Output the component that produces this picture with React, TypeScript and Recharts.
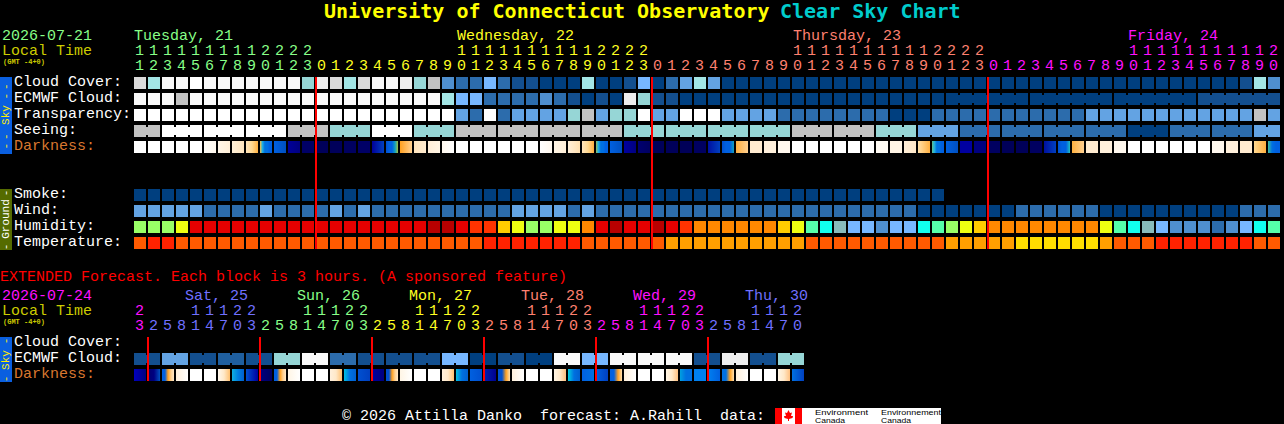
import React from 'react';
import { ReferenceLine, Scatter, ScatterChart, XAxis, YAxis } from 'recharts';

const MONO = '"Liberation Mono", monospace';

// forecast levels, one letter per block
const levelColors: Record<string, string> = {
    A: '#003F7F', B: '#134F8F', J: '#1F5F9F', C: '#2C6CAC', D: '#4F8FCF', E: '#63A3E3', F: '#77B7FF',
    T: '#96D6D6', L: '#A3E6E6', G: '#C2C2C2', H: '#DADADA', I: '#EEEEEE', V: '#F9F9F9', W: '#FFFFFF',
    g: '#99FF66', y: '#EEFF11', r: '#E60000', R: '#B80000', o: '#FF3300', n: '#FF8800', u: '#FFCC00',
    m: '#55FFAA', c: '#11FFEE', t: '#88BBBB',
    q: '#FF5A00', s: '#FF2200', v: '#FF9F00', x: '#FFDD00',
};

const hours = [
    11, 12, 13, 14, 15, 16, 17, 18, 19, 20, 21, 22, 23,
    0, 1, 2, 3, 4, 5, 6, 7, 8, 9, 10, 11, 12, 13, 14, 15, 16, 17, 18, 19, 20, 21, 22, 23,
    0, 1, 2, 3, 4, 5, 6, 7, 8, 9, 10, 11, 12, 13, 14, 15, 16, 17, 18, 19, 20, 21, 22, 23,
    0, 1, 2, 3, 4, 5, 6, 7, 8, 9, 10, 11, 12, 13, 14, 15, 16, 17, 18, 19, 20,
];

const cloudCover = [
    'H', 'L', 'V', 'V', 'W', 'V', 'V', 'V', 'V', 'V',
    'V', 'V', 'T', 'I', 'H', 'L', 'H', 'V', 'V', 'I',
    'T', 'G', 'D', 'C', 'C', 'F', 'C', 'B', 'B', 'A',
    'A', 'A', 'L', 'A', 'A', 'B', 'F', 'A', 'C', 'E',
    'L', 'E', 'A', 'A', 'A', 'A', 'A', 'A', 'A', 'A',
    'A', 'A', 'A', 'A', 'A', 'A', 'A', 'A', 'A', 'A',
    'A', 'A', 'A', 'A', 'A', 'A', 'A', 'A', 'A', 'A',
    'A', 'A', 'A', 'A', 'A', 'A', 'A', 'A', 'A', 'B',
    'L', 'D',
];
const ecmwfCloud = [
    'V', 'V', 'V', 'G', 'V', 'V', 'V', 'V', 'V', 'V',
    'V', 'V', 'V', 'V', 'V', 'V', 'V', 'V', 'V', 'V',
    'V', 'V', 'L', 'F', 'F', 'C', 'C', 'C', 'C', 'D',
    'C', 'B', 'A', 'B', 'A', 'I', 'T', 'B', 'B', 'A',
    'A', 'A', 'A', 'A', 'A', 'A', 'A', 'A', 'A', 'A',
    'A', 'A', 'A', 'A', 'A', 'A', 'A', 'A', 'A', 'A',
    'A', 'A', 'A', 'A', 'A', 'A', 'A', 'A', 'A', 'A',
    'A', 'A', 'A', 'A', 'A', 'A', 'B', 'B', 'B', 'B',
    'B', 'B',
];
const transparency = [
    'W', 'W', 'W', 'W', 'W', 'W', 'W', 'W', 'W', 'W',
    'W', 'W', 'W', 'W', 'W', 'W', 'W', 'W', 'W', 'W',
    'W', 'W', 'W', 'E', 'C', 'W', 'C', 'E', 'E', 'E',
    'E', 'T', 'G', 'E', 'T', 'T', 'W', 'E', 'E', 'W',
    'W', 'W', 'E', 'E', 'E', 'E', 'C', 'C', 'C', 'C',
    'C', 'C', 'C', 'C', 'A', 'A', 'A', 'C', 'C', 'C',
    'C', 'C', 'C', 'C', 'C', 'C', 'C', 'C', 'E', 'E',
    'E', 'E', 'E', 'E', 'E', 'E', 'E', 'E', 'E', 'E',
    'G', 'E',
];
const seeing = [
    'G', 'G', 'W', 'W', 'W', 'W', 'W', 'W', 'W', 'W',
    'W', 'G', 'G', 'G', 'T', 'T', 'T', 'W', 'W', 'W',
    'T', 'T', 'T', 'G', 'G', 'G', 'G', 'G', 'G', 'G',
    'G', 'G', 'G', 'G', 'G', 'T', 'T', 'T', 'T', 'T',
    'T', 'T', 'T', 'T', 'T', 'T', 'T', 'G', 'G', 'G',
    'G', 'G', 'G', 'T', 'T', 'T', 'E', 'E', 'E', 'C',
    'C', 'C', 'C', 'C', 'C', 'C', 'C', 'C', 'C', 'C',
    'C', 'A', 'A', 'A', 'C', 'C', 'C', 'C', 'C', 'C',
    'E', 'E',
];
// darkness blocks fade from left to right through these colours
const darkness = [
    'FFFFFF', 'FFFFFF', 'FFFFFF', 'FFFFFF', 'FFFFFF', 'FFFEFA,FFF8EE', 'FFF6E8,FFEFD8', 'FFF0D8,FFE5BF', 'FFE4BC,FFD890,FFB040', 'FFC040,20B0E0,0070E0,0070E0,0060E0,0060E0',
    '0060E0,0050C0', '000099,000080', '000066', '00005A', '00005A', '000060', '000066', '000099,0040C0', '0050D0,0060E0,0060E0,10A0C0,A0C040', 'FFA020,FFD090',
    'FFE4BC,FFEBD0', 'FFEED8,FFF5E5', 'FFF8EE,FFFFFF', 'FFFFFF', 'FFFFFF', 'FFFFFF', 'FFFFFF', 'FFFFFF', 'FFFFFF', 'FFFFFF,FFF8EE',
    'FFF5E5,FFEFD8', 'FFEFD8,FFE0B0', 'FFE4BC,FFD890,FFB040', '90C060,20B0E0,0070E0,0070E0,0060E0,0060E0', '0060E0,0050C0', '0000A0,000080', '000070,000060', '00005A', '00005A', '000058',
    '000060', '0010A0,0040C0', '0050D0,0060E0,0060E0,10A0C0', 'FFB040,FFD090', 'FFEBD0', 'FFF0DC', 'FFF8EE', 'FFFFFF', 'FFFFFF', 'FFFFFF',
    'FFFFFF', 'FFFFFF', 'FFFFFF', 'FFFBF4', 'FFF5E5', 'FFEFD8,FFE8C8', 'FFE0A8,FFB040', '60C090,20B0E0,0070E0,0070E0,0060E0,0060E0', '0060E0,0050C0', '0000A0',
    '000080', '000060', '000058', '000058', '000060', '0010A0,0040C0', '0050D0,0060E0,0060E0,20C0C0', 'FFB040,FFD090', 'FFEBD0', 'FFF0DC',
    'FFF8EE', 'FFFFFF', 'FFFFFF', 'FFFFFF', 'FFFFFF', 'FFFFFF', 'FFFFFF', 'FFF8EE', 'FFF0DC', 'FFEBD0',
    'FFD890,FFB040', '40C0A0,0070E0,0060E0,0060E0',
];
const smoke = [
    'A', 'A', 'A', 'A', 'A', 'A', 'A', 'A', 'A', 'A',
    'A', 'A', 'A', 'A', 'A', 'A', 'A', 'A', 'A', 'A',
    'A', 'A', 'A', 'A', 'A', 'A', 'A', 'A', 'A', 'A',
    'A', 'A', 'A', 'A', 'A', 'A', 'A', 'A', 'A', 'A',
    'A', 'A', 'A', 'A', 'A', 'A', 'A', 'A', 'A', 'A',
    'A', 'A', 'A', 'A', 'A', 'A', 'A', 'A',
];
const wind = [
    'E', 'E', 'E', 'E', 'E', 'C', 'C', 'C', 'C', 'E',
    'C', 'C', 'C', 'C', 'E', 'C', 'E', 'C', 'C', 'C',
    'C', 'C', 'C', 'C', 'C', 'C', 'C', 'E', 'E', 'E',
    'E', 'C', 'E', 'C', 'C', 'C', 'C', 'C', 'C', 'C',
    'C', 'C', 'C', 'C', 'C', 'C', 'C', 'C', 'C', 'C',
    'C', 'C', 'C', 'C', 'C', 'C', 'A', 'A', 'A', 'A',
    'A', 'A', 'A', 'C', 'C', 'C', 'C', 'C', 'C', 'A',
    'A', 'A', 'A', 'A', 'A', 'A', 'A', 'A', 'A', 'C',
    'C', 'C',
];
const humidity = [
    'g', 'g', 'g', 'y', 'r', 'r', 'r', 'r', 'r', 'r',
    'r', 'r', 'r', 'r', 'r', 'r', 'r', 'r', 'r', 'r',
    'r', 'R', 'R', 'r', 'o', 'o', 'u', 'y', 'g', 'g',
    'y', 'y', 'n', 'r', 'R', 'r', 'r', 'R', 'r', 'o',
    'n', 'n', 'n', 'n', 'n', 'n', 'u', 'y', 'm', 'c',
    't', 'F', 'F', 'D', 'F', 'F', 'c', 'm', 'g', 'y',
    'u', 'n', 'n', 'n', 'n', 'n', 'n', 'n', 'n', 'y',
    'm', 'c', 't', 'F', 'D', 'D', 'D', 'C', 'D', 'F',
    'c', 'm',
];
const temperature = [
    'q', 's', 's', 'q', 'q', 'q', 'q', 'q', 'q', 'q',
    'q', 'q', 'q', 'q', 'q', 'q', 'q', 'q', 'q', 'q',
    'q', 'q', 'q', 'q', 'q', 's', 's', 's', 's', 's',
    's', 's', 'q', 'q', 'q', 'q', 'q', 'q', 'v', 'v',
    'v', 'v', 'v', 'v', 'v', 'v', 'v', 'v', 'q', 'q',
    'q', 'q', 'q', 'q', 'q', 'q', 'q', 'q', 'v', 'v',
    'v', 'v', 'v', 'x', 'x', 'x', 'x', 'x', 'x', 'v',
    'q', 'q', 'q', 's', 's', 's', 's', 's', 's', 's',
    'q', 'q',
];

// how many blocks are joined together in the rows that have coarser steps
const seeingGroups = [2, 3, 3, 3, 3, 3, 3, 3, 3, 3, 3, 3, 3, 3, 3, 3, 3, 3, 3, 3, 3, 3, 3, 3, 3, 3, 3, 2];
const ecmwfGroups = [
    1, 1, 1, 1, 1, 1, 1, 1, 1, 1, 1, 1, 1, 1, 1, 1, 1, 1, 1, 1, 1, 1, 1, 1, 1, 1, 1, 1, 1,
    1, 1, 1, 1, 1, 1, 1, 1, 1, 1, 1, 1, 1, 1, 1, 1, 1, 1, 1, 1, 1, 1, 1, 1, 1, 1, 1, 1, 1,
    6, 6, 6, 6,
];

const extHours = [
    23, 2, 5, 8, 11, 14, 17, 20, 23, 2, 5, 8, 11, 14, 17, 20, 23, 2, 5, 8, 11, 14, 17, 20,
    23, 2, 5, 8, 11, 14, 17, 20, 23, 2, 5, 8, 11, 14, 17, 20, 23, 2, 5, 8, 11, 14, 17, 20,
];
const extEcmwf = [
    'B', 'B', 'E', 'E', 'B', 'B', 'J', 'J', 'B', 'B', 'T', 'T', 'V', 'V', 'C', 'C',
    'B', 'B', 'B', 'B', 'B', 'B', 'F', 'F', 'A', 'A', 'B', 'B', 'A', 'A', 'V', 'V',
    'F', 'F', 'V', 'V', 'V', 'V', 'V', 'V', 'B', 'B', 'I', 'I', 'B', 'B', 'T', 'T',
];
const extEcmwfGroups = [2, 2, 2, 2, 2, 2, 2, 2, 2, 2, 2, 2, 2, 2, 2, 2, 2, 2, 2, 2, 2, 2, 2, 2];
const extDarkness = [
    '0000C0,000080', '000070,000080,0050C0', '0060E0,0060E0,FFA020,FFD090,FFE8C8', 'FFF0DC,FFFFFF', 'FFFFFF', 'FFFFFF', 'FFF8EE,FFE8C8,FFC070', '10B0E0,0080E0,0060D0',
    '0050D0,0000A0', '000080,000060', '0060E0,0060E0,FFA020,FFD090,FFE8C8', 'FFF5E5,FFFFFF', 'FFFFFF', 'FFFFFF', 'FFF0DC,FFE8C8,FFC070', '00C0E0,0070E0,0060D0',
    '0050D0,0040C0', '0000A0,000080', '0050D0,0050D0,FFA020,FFD090,FFE8C8', 'FFF5E5,FFFFFF', 'FFFFFF', 'FFFFFF', 'FFF0DC,FFE8C8,FFC070', '00C0E0,0070E0,0060D0',
    '0060E0,0050D0', '0020B0,000090', '0050D0,0050D0,FFA020,FFE0B0', 'FFF0DC,FFFFFF', 'FFFFFF', 'FFFFFF', 'FFF5E5,FFE8C8,FFC080', '00D0E0,0070E0,0060D0',
    '0060E0,0070E0', '0060E0,0040C0', '0060E0,0060E0,FFA020,FFE0B0', 'FFF0DC,FFFFFF', 'FFFFFF', 'FFFFFF', 'FFF5E5,FFE8C8,FFC080', '00A0E0,0070E0,0070E0',
    '0080F0', '0080F0,0060E0', '0070E0,0070E0,FFA020,FFE0B0', 'FFF0DC,FFFFFF', 'FFFFFF', 'FFFFFF', 'FFF5E5,FFE8C8,FFC080', '0070E0,0040C0',
];

const midnightColumns = [13, 37, 61];
const extMidnightColumns = [1, 9, 17, 25, 33, 41];

const mainLabels: Record<number, string> = {
    0: 'Cloud Cover:', 1: 'ECMWF Cloud:', 2: 'Transparency:', 3: 'Seeing:', 4: 'Darkness:',
    7: 'Smoke:', 8: 'Wind:', 9: 'Humidity:', 10: 'Temperature:',
};
const extLabels: Record<number, string> = { 0: 'Cloud Cover:', 1: 'ECMWF Cloud:', 2: 'Darkness:' };

const GREEN = '#88FF88';
const YELLOW = '#FFFF22';
const SALMON = '#FF8070';
const MAGENTA = '#FF11FF';
const BLUE = '#7070FF';

const hourColor = (col: number) => (col < 13 ? GREEN : col < 37 ? YELLOW : col < 61 ? SALMON : MAGENTA);
const extHourColor = (col: number) => {
    if (col < 1) return MAGENTA;
    return [BLUE, GREEN, YELLOW, SALMON, MAGENTA, BLUE][Math.floor((col - 1) / 8)];
};

type Cell = { x: number; y: number; colors: string[]; bridge: boolean };

const toCells = (values: string[], row: number, groups?: number[]): Cell[] => {
    const bridged = new Set<number>();
    let start = 0;
    (groups || []).forEach((size) => {
        for (let i = start; i < start + size - 1; i++) bridged.add(i);
        start += size;
    });
    return values.map((value, i) => ({
        x: i + 0.5,
        y: row,
        colors: [levelColors[value]],
        bridge: bridged.has(i),
    }));
};

const darknessCells = (values: string[], row: number): Cell[] =>
    values.map((value, i) => ({
        x: i + 0.5,
        y: row,
        colors: value.split(',').map((c) => `#${c}`),
        bridge: false,
    }));

let gradientCount = 0;

// a column is 14px wide, the block fills the left 12px of it
const Block = ({ cx, cy, payload }: any) => {
    const { colors, bridge } = payload as Cell;
    const left = cx - 7;
    const top = cy - 6;
    if (colors.length === 1) {
        return (
            <g>
                <rect x={left} y={top} width={12} height={12} fill={colors[0]} />
                {bridge && <rect x={left + 12} y={top + 2} width={2} height={8} fill={colors[0]} />}
            </g>
        );
    }
    const id = `fade-${gradientCount++}`;
    return (
        <g>
            <defs>
                <linearGradient id={id} x1="0" y1="0" x2="1" y2="0">
                    {colors.map((color, i) => (
                        <stop key={i} offset={i / (colors.length - 1)} stopColor={color} />
                    ))}
                </linearGradient>
            </defs>
            <rect x={left} y={top} width={12} height={12} fill={`url(#${id})`} />
        </g>
    );
};

const hourTick = (list: number[], colorOf: (col: number) => string, tensY: number, unitsY: number) => (props: any) => {
    const col = props.payload.value - 0.5;
    const hour = list[col];
    const style = { fontFamily: MONO, fontSize: 15, fill: colorOf(col), textAnchor: 'middle' as const };
    return (
        <g>
            {hour >= 10 && <text x={props.x - 1.5} y={tensY} {...style}>{Math.floor(hour / 10)}</text>}
            <text x={props.x - 1.5} y={unitsY} {...style}>{hour % 10}</text>
        </g>
    );
};

const rowTick = (labels: Record<number, string>) => (props: any) => {
    const label = labels[props.payload.value];
    return (
        <text x={14} y={props.y + 3} fontFamily={MONO} fontSize={15} fill={label === 'Darkness:' ? '#D9772F' : '#FFFFFF'}>
            {label}
        </text>
    );
};

const Txt = ({ x, y, fill, size = 15, bold, anchor, family, children }: any) => (
    <text
        x={x}
        y={y}
        fill={fill}
        fontSize={size}
        fontWeight={bold ? 700 : 400}
        fontFamily={family || MONO}
        textAnchor={anchor}
        style={{ whiteSpace: 'pre' }}
    >
        {children}
    </text>
);

const Vert = ({ cy, fill, size = 11, spacing = 0, children }: any) => (
    <text
        transform={`translate(9 ${cy}) rotate(-90)`}
        fill={fill}
        fontSize={size}
        fontFamily={MONO}
        textAnchor="middle"
        letterSpacing={spacing}
        style={{ whiteSpace: 'pre' }}
    >
        {children}
    </text>
);

const Backdrop = () => (
    <svg width={1284} height={424} style={{ position: 'absolute', left: 0, top: 0 }}>
        <Txt x={324} y={18} fill="#FFFF00" size={20} bold family='"DejaVu Sans Mono", monospace'>University of Connecticut Observatory</Txt>
        <Txt x={780} y={18} fill="#00CCCC" size={20} bold family='"DejaVu Sans Mono", monospace'>Clear Sky Chart</Txt>

        <Txt x={2} y={40} fill={GREEN}>2026-07-21</Txt>
        <Txt x={2} y={55} fill="#CCCC00">Local Time</Txt>
        <Txt x={3} y={64} fill="#CCCC00" size={7} bold>(GMT -4+0)</Txt>
        <Txt x={134} y={40} fill={GREEN}>Tuesday, 21</Txt>
        <Txt x={457} y={40} fill={YELLOW}>Wednesday, 22</Txt>
        <Txt x={793} y={40} fill={SALMON}>Thursday, 23</Txt>
        <Txt x={1128} y={40} fill={MAGENTA}>Friday, 24</Txt>

        <rect x={0} y={77} width={12} height={77} fill="#0A5FE0" />
        <Vert cy={90} fill="#FFEE00" spacing={3}>--</Vert>
        <Vert cy={115} fill="#FFEE00">Sky</Vert>
        <Vert cy={140} fill="#FFEE00" spacing={3}>--</Vert>

        <rect x={0} y={189} width={12} height={61} fill="#556B00" />
        <Vert cy={193} fill="#FFFFFF">-</Vert>
        <Vert cy={219} fill="#FFFFFF">Ground</Vert>
        <Vert cy={247} fill="#FFFFFF">-</Vert>

        <Txt x={0} y={281} fill="#FF0000">EXTENDED Forecast. Each block is 3 hours. (A sponsored feature)</Txt>
        <Txt x={2} y={300} fill={MAGENTA}>2026-07-24</Txt>
        <Txt x={2} y={315} fill="#CCCC00">Local Time</Txt>
        <Txt x={3} y={324} fill="#CCCC00" size={7} bold>(GMT -4+0)</Txt>
        <Txt x={185} y={300} fill={BLUE}>Sat, 25</Txt>
        <Txt x={297} y={300} fill={GREEN}>Sun, 26</Txt>
        <Txt x={409} y={300} fill={YELLOW}>Mon, 27</Txt>
        <Txt x={521} y={300} fill={SALMON}>Tue, 28</Txt>
        <Txt x={633} y={300} fill={MAGENTA}>Wed, 29</Txt>
        <Txt x={745} y={300} fill={BLUE}>Thu, 30</Txt>

        <rect x={0} y={337} width={12} height={45} fill="#0A5FE0" />
        <Vert cy={341} fill="#FFEE00">-</Vert>
        <Vert cy={360} fill="#FFEE00">Sky</Vert>
        <Vert cy={379} fill="#FFEE00">-</Vert>

        <Txt x={342} y={420} fill="#FFFFFF">© 2026 Attilla Danko  forecast: A.Rahill  data:</Txt>
        <rect x={775} y={408} width={166} height={16} fill="#FFFFFF" />
        <rect x={775} y={408} width={7} height={16} fill="#FF0000" />
        <rect x={795} y={408} width={7} height={16} fill="#FF0000" />
        <polygon
            points="788.5,410 790,413 792,412.5 791,416 793,416 792.5,418 789,419 789,421 788,421 788,419 784.5,418 784,416 786,416 785,412.5 787,413"
            fill="#FF0000"
        />
        <g fill="#000000" fontFamily='"Liberation Sans", sans-serif' fontSize={7}>
            <text x={815} y={414.5} textLength={53} lengthAdjust="spacingAndGlyphs">Environment</text>
            <text x={815} y={422.5} textLength={30} lengthAdjust="spacingAndGlyphs">Canada</text>
            <text x={881} y={414.5} textLength={60} lengthAdjust="spacingAndGlyphs">Environnement</text>
            <text x={881} y={422.5} textLength={30} lengthAdjust="spacingAndGlyphs">Canada</text>
        </g>
    </svg>
);

const App: React.FC = () => {
    gradientCount = 0;
    return (
        <div style={{ position: 'fixed', left: 0, top: 0, width: 1284, height: 424, background: '#000', overflow: 'hidden' }}>
            <Backdrop />

            <div style={{ position: 'absolute', left: 0, top: 0 }}>
                <ScatterChart width={1284} height={252} margin={{ top: 47, right: 2, bottom: 3, left: 0 }}>
                    <XAxis
                        xAxisId={0}
                        type="number"
                        dataKey="x"
                        orientation="top"
                        domain={[0, 82]}
                        ticks={hours.map((_, i) => i + 0.5)}
                        interval={0}
                        height={30}
                        axisLine={false}
                        tickLine={false}
                        tick={hourTick(hours, hourColor, 55, 70)}
                    />
                    <YAxis
                        yAxisId={0}
                        type="number"
                        dataKey="y"
                        reversed
                        domain={[-0.375, 10.375]}
                        ticks={[0, 1, 2, 3, 4, 7, 8, 9, 10]}
                        interval={0}
                        width={134}
                        axisLine={false}
                        tickLine={false}
                        tick={rowTick(mainLabels)}
                    />
                    <Scatter name="Cloud Cover" data={toCells(cloudCover, 0)} shape={Block} isAnimationActive={false} />
                    <Scatter name="ECMWF Cloud" data={toCells(ecmwfCloud, 1, ecmwfGroups)} shape={Block} isAnimationActive={false} />
                    <Scatter name="Transparency" data={toCells(transparency, 2)} shape={Block} isAnimationActive={false} />
                    <Scatter name="Seeing" data={toCells(seeing, 3, seeingGroups)} shape={Block} isAnimationActive={false} />
                    <Scatter name="Darkness" data={darknessCells(darkness, 4)} shape={Block} isAnimationActive={false} />
                    <Scatter name="Smoke" data={toCells(smoke, 7)} shape={Block} isAnimationActive={false} />
                    <Scatter name="Wind" data={toCells(wind, 8)} shape={Block} isAnimationActive={false} />
                    <Scatter name="Humidity" data={toCells(humidity, 9)} shape={Block} isAnimationActive={false} />
                    <Scatter name="Temperature" data={toCells(temperature, 10)} shape={Block} isAnimationActive={false} />
                    {midnightColumns.map((col) => (
                        <ReferenceLine key={col} x={col} stroke="#FF0000" strokeWidth={2} zIndex={900} />
                    ))}
                </ScatterChart>
            </div>

            <div style={{ position: 'absolute', left: 0, top: 0 }}>
                <ScatterChart width={1284} height={424} margin={{ top: 307, right: 478, bottom: 43, left: 0 }}>
                    <XAxis
                        xAxisId={0}
                        type="number"
                        dataKey="x"
                        orientation="top"
                        domain={[0, 48]}
                        ticks={extHours.map((_, i) => i + 0.5)}
                        interval={0}
                        height={30}
                        axisLine={false}
                        tickLine={false}
                        tick={hourTick(extHours, extHourColor, 315, 330)}
                    />
                    <YAxis
                        yAxisId={0}
                        type="number"
                        dataKey="y"
                        reversed
                        domain={[-0.375, 2.375]}
                        ticks={[0, 1, 2]}
                        interval={0}
                        width={134}
                        axisLine={false}
                        tickLine={false}
                        tick={rowTick(extLabels)}
                    />
                    <Scatter name="ECMWF Cloud" data={toCells(extEcmwf, 1, extEcmwfGroups)} shape={Block} isAnimationActive={false} />
                    <Scatter name="Darkness" data={darknessCells(extDarkness, 2)} shape={Block} isAnimationActive={false} />
                    {extMidnightColumns.map((col) => (
                        <ReferenceLine key={col} x={col} stroke="#FF0000" strokeWidth={2} zIndex={900} />
                    ))}
                </ScatterChart>
            </div>
        </div>
    );
};

export default App;
